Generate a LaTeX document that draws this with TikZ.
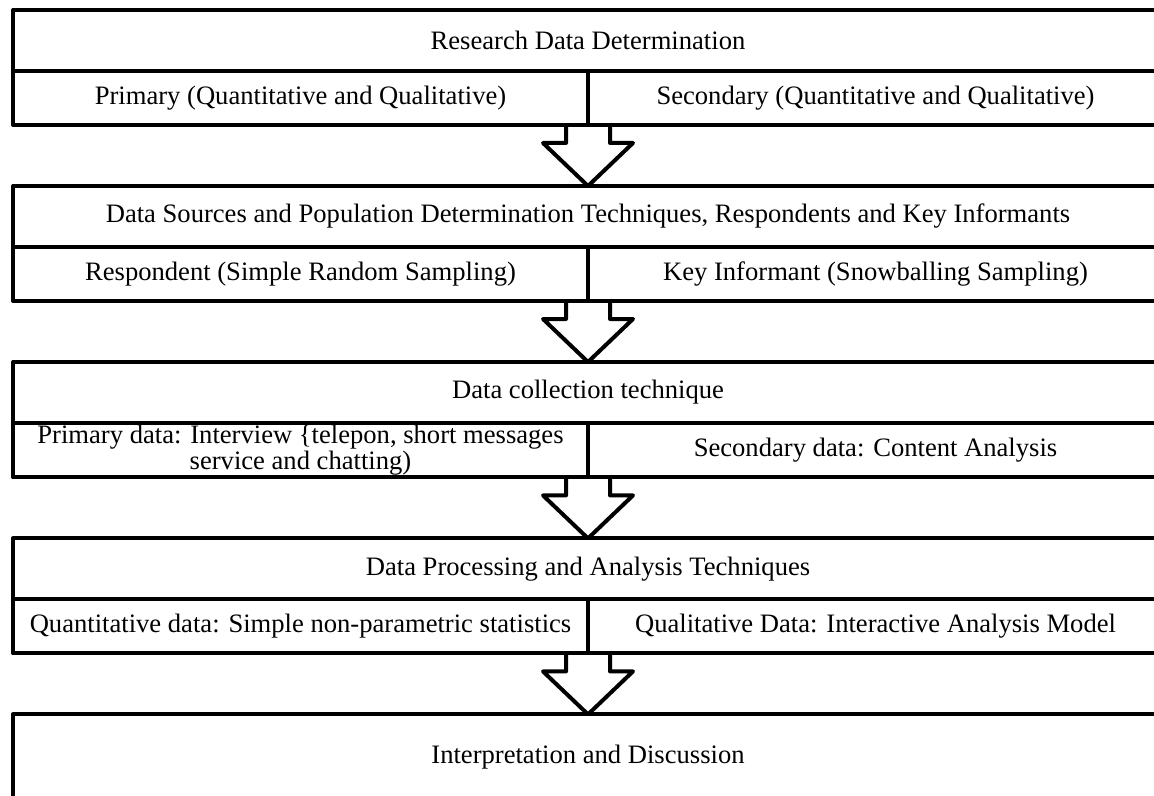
\documentclass[tikz,border=0pt]{standalone}
\usepackage{fontspec}
\setmainfont{Liberation Serif}
\usetikzlibrary{positioning}

\begin{document}
\begin{tikzpicture}[font=\fontsize{13.3}{12}\selectfont,x=.5pt,y=-.5pt,line width=2pt,line join=round,
 RMtitle/.style={draw,outer sep=0pt,inner sep=1pt,minimum width=575pt,minimum height=30.5pt},
 RMcell/.style={draw,outer sep=0pt,inner sep=1pt,minimum width=287.5pt,minimum height=27pt,align=center}]
\clip (0,0) rectangle (1154,796);
\node[RMtitle,anchor=north west] (t1) at (13,10) {Research Data Determination};
\node[RMcell,below right=0pt and 0pt of t1.south west] (l1) {Primary (Quantitative and Qualitative)};
\node[RMcell,right=0pt of l1] (r1) {Secondary (Quantitative and Qualitative)};
\node[RMtitle,below right=30.5pt and 0pt of l1.south west] (t2) {Data Sources and Population Determination Techniques, Respondents and Key Informants};
\node[RMcell,below right=0pt and 0pt of t2.south west] (l2) {Respondent (Simple Random Sampling)};
\node[RMcell,right=0pt of l2] (r2) {Key Informant (Snowballing Sampling)};
\node[RMtitle,below right=30.5pt and 0pt of l2.south west] (t3) {Data collection technique};
\node[RMcell,below right=0pt and 0pt of t3.south west] (l3) {Primary data: Interview \{telepon, short messages\\service and chatting)};
\node[RMcell,right=0pt of l3] (r3) {Secondary data: Content Analysis};
\node[RMtitle,below right=30.5pt and 0pt of l3.south west] (t4) {Data Processing and Analysis Techniques};
\node[RMcell,below right=0pt and 0pt of t4.south west] (l4) {Quantitative data: Simple non-parametric statistics};
\node[RMcell,right=0pt of l4] (r4) {Qualitative Data: Interactive Analysis Model};
\node[RMtitle,minimum height=43pt,below right=30.5pt and 0pt of l4.south west] (t5) {Interpretation and Discussion};
\foreach \a/\b in {1/2,2/3,3/4,4/5}{
 \draw (l\a.south east) ++(-22,0) -- ++(0,18) -- ++(-23,0) -- (l\a.south east |- t\b.north)
  -- ++(45,-43) -- ++(-23,0) -- ++(0,-18);}
\end{tikzpicture}
\end{document}
